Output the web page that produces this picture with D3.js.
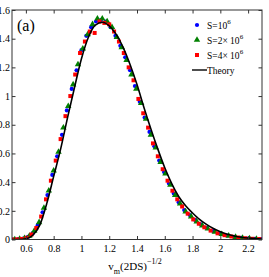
<!DOCTYPE html>
<html><head><meta charset="utf-8">
<script src="https://cdn.jsdelivr.net/npm/d3@7"></script>
<style>
html,body{margin:0;padding:0;background:#fff;}
svg{display:block;}
text{font-family:"Liberation Serif","DejaVu Serif",serif;}
</style></head>
<body>
<script>
// ---- data ----
const theoryV = [0.50,0.55,0.60,0.65,0.70,0.75,0.80,0.85,0.90,0.95,1.00,1.05,1.10,1.15,1.20,1.25,1.30,1.35,1.40,1.45,1.50,1.55,1.60,1.65,1.70,1.75,1.80,1.85,1.90,1.95,2.00,2.05,2.10,2.15,2.20,2.25,2.30];
const theoryP = [0.0,0.0005,0.005,0.03,0.10,0.25,0.44,0.63,0.85,1.06,1.26,1.41,1.495,1.515,1.49,1.43,1.34,1.22,1.08,0.92,0.77,0.63,0.50,0.39,0.30,0.235,0.185,0.14,0.105,0.077,0.054,0.037,0.025,0.016,0.010,0.006,0.004];

const blueV = [0.51,0.545,0.58,0.615,0.65,0.685,0.72,0.755,0.79,0.825,0.86,0.895,0.93,0.965,1.00,1.035,1.07,1.105,1.14,1.175,1.21,1.245,1.28,1.315,1.35,1.385,1.42,1.455,1.49,1.525,1.56,1.595,1.63,1.665,1.70,1.74,1.78,1.82,1.86,1.90,1.95,2.00,2.05,2.10,2.15,2.20,2.25,2.29];
const blueP = [0.000,0.002,0.006,0.018,0.045,0.10,0.19,0.31,0.45,0.58,0.73,0.90,1.05,1.18,1.32,1.42,1.48,1.52,1.53,1.52,1.48,1.42,1.35,1.27,1.18,1.07,0.96,0.85,0.75,0.65,0.55,0.47,0.39,0.32,0.26,0.205,0.17,0.135,0.105,0.08,0.058,0.04,0.028,0.018,0.011,0.007,0.004,0.003];

const greenV = [0.52,0.555,0.59,0.625,0.66,0.695,0.73,0.765,0.80,0.835,0.87,0.905,0.94,0.975,1.01,1.045,1.08,1.115,1.15,1.185,1.22,1.255,1.29,1.325,1.36,1.395,1.43,1.465,1.50,1.535,1.57,1.605,1.64,1.675,1.71,1.75,1.79,1.83,1.87,1.91,1.96,2.01,2.06,2.11,2.16,2.21,2.26];
const greenP = [0.001,0.003,0.009,0.025,0.06,0.12,0.22,0.34,0.48,0.61,0.78,0.93,1.08,1.22,1.33,1.43,1.50,1.54,1.54,1.52,1.48,1.41,1.34,1.25,1.15,1.05,0.95,0.84,0.73,0.64,0.54,0.46,0.38,0.31,0.25,0.195,0.16,0.125,0.097,0.075,0.053,0.037,0.026,0.017,0.011,0.007,0.004];

const redV = [0.50,0.535,0.57,0.605,0.64,0.675,0.71,0.745,0.78,0.815,0.85,0.885,0.92,0.955,0.99,1.025,1.06,1.095,1.13,1.165,1.20,1.235,1.27,1.305,1.34,1.375,1.41,1.445,1.48,1.515,1.55,1.585,1.62,1.655,1.69,1.725,1.765,1.805,1.845,1.885,1.93,1.98,2.03,2.08,2.13,2.18,2.23,2.28];
const redP = [0.000,0.001,0.004,0.012,0.035,0.08,0.16,0.28,0.41,0.55,0.70,0.86,1.00,1.15,1.30,1.38,1.45,1.44,1.52,1.51,1.50,1.45,1.38,1.30,1.20,1.11,0.98,0.88,0.78,0.67,0.58,0.49,0.41,0.34,0.28,0.23,0.18,0.14,0.11,0.085,0.062,0.043,0.03,0.021,0.014,0.009,0.005,0.003];

const xTicks = [0.6,0.8,1.0,1.2,1.4,1.6,1.8,2.0,2.2];
const xTickLabels = ["0.6","0.8","1","1.2","1.4","1.6","1.8","2","2.2"];
const yTicks = [0,0.2,0.4,0.6,0.8,1.0,1.2,1.4,1.6];
const yTickLabels = ["0","0.2","0.4","0.6","0.8","1","1.2","1.4","1.6"];

// ---- layout ----
const W = 269, H = 277;
const L = 12, R = 262, T = 10, B = 239.5;
const x = d3.scaleLinear().domain([0.5, 2.3]).range([L, R]);
const y = d3.scaleLinear().domain([0, 1.6]).range([B, T]);

const svg = d3.select("body").append("svg").attr("width", W).attr("height", H);

// markers
const blue = "#0000ff", green = "#008000", red = "#ff0000";
const clip = svg.append("clipPath").attr("id","c").append("rect")
  .attr("x", L).attr("y", T).attr("width", R-L).attr("height", B-T);
const g = svg.append("g").attr("clip-path","url(#c)");

g.selectAll(".b").data(blueV.map((v,i)=>[v,blueP[i]])).join("circle")
  .attr("cx", d=>x(d[0])).attr("cy", d=>y(d[1])).attr("r", 2.1).attr("fill", blue);
const tri = d3.symbol().type(d3.symbolTriangle).size(18);
g.selectAll(".g").data(greenV.map((v,i)=>[v,greenP[i]])).join("path")
  .attr("d", tri).attr("transform", d=>`translate(${x(d[0])},${y(d[1])})`).attr("fill", green);
g.selectAll(".r").data(redV.map((v,i)=>[v,redP[i]])).join("rect")
  .attr("x", d=>x(d[0])-2).attr("y", d=>y(d[1])-2).attr("width", 4).attr("height", 4).attr("fill", red);

// theory line
const line = d3.line().x(d=>x(d[0])).y(d=>y(d[1])).curve(d3.curveMonotoneX);
g.append("path").datum(theoryV.map((v,i)=>[v,theoryP[i]]))
  .attr("d", line).attr("fill","none").attr("stroke","#000").attr("stroke-width",1.6);

// box
svg.append("rect").attr("x", L).attr("y", T).attr("width", R-L).attr("height", B-T)
  .attr("fill","none").attr("stroke","#333").attr("stroke-width",1);

// ticks (inward, all sides)
const tk = 3.5;
const axB = d3.axisBottom(x).tickValues(xTicks).tickSize(-tk).tickPadding(5)
  .tickFormat((d,i)=>xTickLabels[i]);
const axT = d3.axisTop(x).tickValues(xTicks).tickSize(-tk).tickFormat("");
const axL = d3.axisLeft(y).tickValues(yTicks).tickSize(-tk).tickPadding(2)
  .tickFormat((d,i)=>yTickLabels[i]);
const axR = d3.axisRight(y).tickValues(yTicks).tickSize(-tk).tickFormat("");
function style(sel){
  sel.select(".domain").remove();
  sel.selectAll(".tick line").attr("stroke","#333");
  sel.selectAll("text").attr("fill","#000").style("font-size","10px")
     .style("font-family",'"Liberation Serif",serif');
}
svg.append("g").attr("transform",`translate(0,${B})`).call(axB).call(style);
svg.append("g").attr("transform",`translate(0,${T})`).call(axT).call(style);
svg.append("g").attr("transform",`translate(${L},0)`).call(axL).call(style);
svg.append("g").attr("transform",`translate(${R},0)`).call(axR).call(style);

// x label
const xl = svg.append("text").attr("x", 135).attr("y", 270).attr("text-anchor","middle")
  .style("font-size","11px");
xl.append("tspan").text("v");
xl.append("tspan").attr("dy",3.5).style("font-size","8px").text("m");
xl.append("tspan").attr("dy",-3.5).text("(2DS)");
xl.append("tspan").attr("dy",-6).style("font-size","8px").text("\u22121/2");

// panel label
svg.append("text").attr("x", 17).attr("y", 31).style("font-size","16px").text("(a)");

// legend
const lx = 197, tx = 207, rows = [25, 40, 55, 70];
svg.append("circle").attr("cx", lx).attr("cy", rows[0]).attr("r", 2.1).attr("fill", blue);
svg.append("path").attr("d", tri).attr("transform", `translate(${lx},${rows[1]})`).attr("fill", green);
svg.append("rect").attr("x", lx-2).attr("y", rows[2]-2).attr("width",4).attr("height",4).attr("fill", red);
svg.append("line").attr("x1", 192).attr("x2", 207).attr("y1", rows[3]).attr("y2", rows[3])
  .attr("stroke","#222").attr("stroke-width",1.6);
const legTexts = [["S=10",""],["S=2\u00d7 10",""],["S=4\u00d7 10",""]];
legTexts.forEach((t,i)=>{
  const te = svg.append("text").attr("x", tx).attr("y", rows[i]+3.5).style("font-size","9.5px");
  te.append("tspan").text(t[0]);
  te.append("tspan").attr("dy",-4.5).style("font-size","7px").text("6");
});
svg.append("text").attr("x", tx).attr("y", rows[3]+3.5).style("font-size","9.5px").text("Theory");
</script>
</body></html>
